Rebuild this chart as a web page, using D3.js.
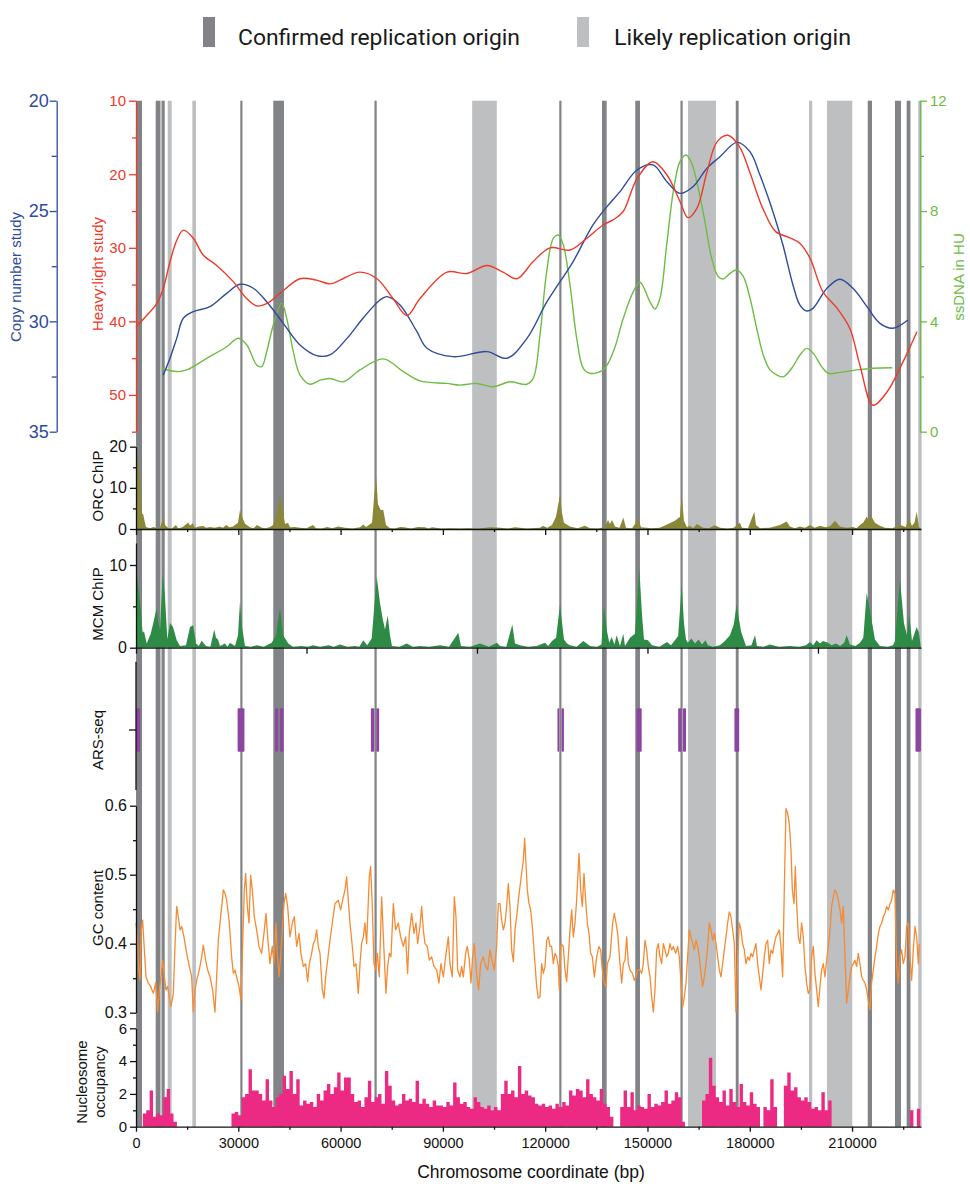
<!DOCTYPE html>
<html><head><meta charset="utf-8">
<script src="https://cdn.jsdelivr.net/npm/d3@7"></script>
<style>
body{margin:0;background:#fff;}
svg{display:block;font-family:"Liberation Sans",Arial,sans-serif;}
</style></head><body>
<svg id="c" width="970" height="1189"></svg>
<script>
// ---------- DATA (positions in kb) ----------
const legendLabels = ["Confirmed replication origin", "Likely replication origin"];
const originsConfirmed = [[0,1.76],[5.78,7.18],[7.48,8.42],[30.59,31.23],[40.26,43.40],[69.94,70.59],[124.13,124.78],[136.66,138.03],[146.42,147.80],[159.68,160.32],[175.89,176.74],[214.60,215.84],[222.58,224.34],[226.01,227.13]];
const originsLikely = [[9.30,10.47],[16.51,17.60],[98.59,105.81],[161.88,170.09],[197.36,198.33],[202.64,210.06],[229.41,230.41]];

const heavyLight = [[0,40.75],[3.14,39.2],[6.07,37.6],[8.01,35.5],[9.97,31.9],[11.94,29.0],[13.87,27.6],[16.80,28.7],[19.74,31.0],[23.67,32.4],[28.53,34.6],[32.46,36.9],[35.40,37.9],[38.33,37.6],[43.20,35.8],[48.09,34.2],[52.99,34.4],[56.89,34.9],[59.83,34.4],[65.69,33.3],[70.68,34.2],[75.37,36.9],[79.47,39.2],[83.29,36.9],[91.20,33.3],[97.07,33.5],[102.93,32.4],[107.62,33.3],[111.73,34.2],[116.42,31.9],[121.41,30.0],[127.27,30.3],[132.26,28.7],[136.95,26.9],[139.89,26.2],[142.82,25.1],[146.93,20.6],[151.62,18.3],[155.72,20.1],[159.53,23.7],[161.88,25.9],[164.52,24.6],[167.45,19.7],[170.39,15.6],[173.59,14.7],[177.05,16.3],[179.98,19.7],[183.78,24.6],[187.60,27.8],[191.57,28.6],[194.74,29.4],[197.66,31.4],[201.47,36.0],[205.58,38.2],[209.39,41.0],[212.32,46.0],[216.14,51.4],[220.24,49.6],[224.93,45.5],[229.03,41.4]];

const copyNumber = [[8.0,32.43],[9.97,31.67],[11.94,30.77],[13.87,29.86],[16.80,29.56],[21.70,29.33],[26.60,28.73],[30.50,28.32],[34.40,28.5],[38.33,29.11],[43.20,30.09],[48.09,31.07],[52.99,31.55],[56.89,31.52],[61.88,30.77],[66.57,29.86],[71.55,29.03],[73.61,28.88],[77.42,29.26],[82.40,30.47],[85.34,31.22],[92.96,31.6],[102.93,31.37],[108.80,31.67],[114.66,30.77],[120.53,29.11],[128.15,27.3],[134.02,25.63],[138.12,24.8],[141.94,24.12],[146.93,23.14],[151.62,22.91],[155.72,23.67],[159.53,24.2],[163.34,23.9],[167.45,23.06],[171.25,22.54],[176.23,21.89],[180.04,22.31],[182.99,23.37],[186.80,25.03],[189.73,26.54],[192.67,28.35],[194.72,29.26],[196.77,29.53],[198.53,29.41],[202.64,28.5],[206.45,28.09],[210.26,28.5],[214.37,29.33],[218.18,30.09],[221.99,30.31],[226.39,29.94]];

const ssDNA = [[7.54,2.3],[11.94,2.18],[14.87,2.24],[20.73,2.66],[26.60,3.08],[30.0,3.39],[32.46,3.15],[35.40,2.42],[36.86,2.36],[38.33,2.9],[40.27,3.87],[42.73,4.66],[44.19,4.11],[46.13,2.9],[48.09,2.06],[51.03,1.72],[53.96,1.87],[56.89,1.93],[60.79,1.81],[65.69,2.24],[72.52,2.64],[78.39,2.18],[83.29,1.84],[91.12,1.75],[95.02,1.69],[99.91,1.75],[104.78,1.63],[109.68,1.81],[114.58,1.72],[116.51,1.94],[118.48,3.51],[120.44,5.8],[122.38,7.01],[123.84,7.13],[125.31,6.77],[127.28,5.32],[129.24,3.39],[131.18,2.3],[133.14,2.12],[137.04,2.24],[139.98,2.9],[142.91,4.11],[145.84,5.08],[147.80,5.42],[150.73,4.71],[152.20,4.45],[153.67,4.84],[155.63,6.77],[157.57,8.7],[159.53,9.79],[161.29,10.03],[162.96,9.73],[164.90,8.82],[166.86,7.61],[168.83,6.29],[170.77,5.62],[172.24,5.54],[174.20,5.74],[176.16,5.86],[178.12,5.62],[180.08,4.84],[182.03,3.75],[183.96,2.78],[185.93,2.24],[187.89,2.06],[189.83,1.99],[192.30,2.3],[194.72,2.78],[196.69,3.02],[198.63,2.84],[201.08,2.36],[203.02,2.12],[206.45,2.15],[211.35,2.24],[216.22,2.3],[221.80,2.32]];

const orcChip = [[0,0],[0.38,18],[0.88,15],[1.17,12],[1.67,3.8],[2.14,3.5],[2.49,2],[2.93,0.5],[4.11,0.2],[5.2,0.5],[6.1,0.2],[7.04,0.3],[8.01,2.8],[8.50,1],[9.38,0.3],[10.5,0.1],[11.73,1],[12.32,0.2],[13.6,0.4],[15.34,1.6],[15.84,0.8],[16.63,1.4],[17.30,0.3],[18.4,0.6],[19.65,0.7],[20.6,0.3],[21.70,0.5],[23.1,0.3],[24.63,0.6],[25.5,0.3],[26.39,1],[27.4,0.4],[28.45,0.6],[29.91,1.5],[30.50,4.6],[31.09,3],[31.97,1.3],[33.43,0.4],[34.5,0.2],[35.48,1],[36.95,0.3],[38.1,0.2],[39.30,0.5],[40.18,1],[41.06,3],[42.23,7.9],[42.82,6],[43.70,1.2],[44.58,1.5],[45.16,0.4],[46.6,0.5],[48.09,0.3],[50.0,0.2],[51.91,1],[52.79,0.2],[54.5,0.1],[56.01,0.5],[57.6,0.2],[59.24,0.6],[61.29,0.3],[63.5,0.1],[65.69,0.4],[66.66,1.1],[67.45,0.5],[69.21,1.5],[70.38,13.2],[70.97,6],[71.76,4.6],[72.52,4.6],[73.32,1],[74.49,0.2],[76.0,0.1],[77.42,0.5],[78.59,0.4],[80.6,0.1],[82.70,0.5],[84.75,0.4],[85.8,0.1],[86.80,0.4],[89.5,0.1],[92.08,0.2],[95.0,0.1],[97.36,0.2],[100.5,0.1],[103.81,0.4],[106.75,0.3],[109.0,0.1],[111.14,0.4],[114.6,0.1],[118.48,0.3],[119.36,0.8],[120.6,0.3],[122.00,1],[123.17,3],[124.34,8.3],[124.92,4],[125.51,1.5],[127.27,0.6],[129.5,0.2],[131.67,0.8],[133.14,0.2],[135.5,0.1],[137.5,0.4],[138.42,2.2],[139.0,1.2],[139.59,2.2],[140.47,0.6],[141.8,0.3],[142.91,2.8],[143.70,0.3],[145.5,0.2],[147.31,2.4],[148.10,0.4],[149.7,0.3],[151.32,0.2],[153.6,0.3],[156.01,1.2],[158.06,2],[159.53,3],[160.03,8.3],[160.70,2],[161.6,0.4],[162.46,0.8],[163.4,0.2],[164.52,1.2],[166.28,0.3],[168.0,0.2],[169.79,0.9],[171.25,0.3],[173.5,0.1],[175.3,0.3],[177.11,1.5],[177.70,0.3],[179.5,0.2],[181.32,4.2],[181.82,1],[183.00,0.2],[185.9,0.3],[188.86,1],[190.83,1.8],[191.79,0.6],[193.2,0.2],[194.72,0.6],[196.2,0.3],[197.66,1],[199.0,0.3],[200.59,0.8],[202.2,0.4],[203.6,0.7],[204.99,2],[206.45,0.6],[208.3,0.3],[210.26,0.5],[211.3,0.2],[212.32,1],[213.3,1.6],[214.28,3],[215.0,2.2],[215.45,3.4],[216.72,1.5],[218.18,0.8],[219.65,0.3],[221.8,0.2],[224.05,1],[225.81,0.5],[226.49,2.6],[227.57,0.8],[228.3,1.5],[228.95,4.2],[229.62,0.5],[230.2,0]];

const mcmChip = [[0,0],[0.38,8.6],[1.17,5.4],[1.96,1.8],[2.35,2],[3.14,0.5],[4.31,1.7],[5.07,3],[6.07,4.8],[6.60,3],[7.04,2.1],[7.83,9.0],[8.50,6.2],[9.18,1],[9.97,3],[10.85,2.5],[11.94,0.9],[12.90,0.2],[14.66,0.3],[15.84,2.5],[16.80,2.7],[17.60,0.5],[18.4,0.2],[19.27,0.85],[20.53,0.2],[21.8,0.1],[22.96,2.2],[23.46,1.2],[24.05,1],[24.63,0.2],[26.10,0.5],[26.8,0.1],[27.57,0.6],[29.03,0.2],[29.91,1.5],[30.50,5.6],[31.09,2.5],[31.97,0.2],[33.7,0.1],[35.48,0.3],[37.5,0.1],[39.80,0.6],[41.06,1.5],[42.23,4.8],[43.11,1.5],[44.66,0.5],[46.04,0.1],[48.5,0.2],[50.4,0.1],[51.91,0.3],[54.0,0.1],[56.5,0.3],[58.0,0.1],[59.83,0.4],[62.0,0.1],[64.22,0.2],[65.5,0.1],[66.66,0.9],[67.8,0.3],[69.12,1.1],[70.59,8.6],[71.56,5.4],[72.35,3.5],[73.02,2.2],[73.81,3.9],[74.49,1.5],[75.07,0.2],[77.3,0.1],[79.39,0.5],[81.2,0.1],[83.29,0.2],[86.0,0.1],[89.15,0.3],[91.8,0.1],[94.52,1.8],[95.31,0.2],[98.0,0.1],[100.88,0.5],[103.5,0.1],[105.87,0.6],[106.75,0.2],[108.6,0.1],[110.36,2.8],[111.15,0.5],[112.61,0.3],[115.0,0.1],[117.5,0.2],[119.94,0.6],[120.9,0.2],[121.99,0.8],[123.2,1.2],[124.34,5.2],[125.52,1.0],[126.4,0.5],[127.27,0.3],[129.2,0.1],[131.18,0.8],[133.14,0.2],[135.2,0.1],[136.5,0.4],[137.25,5.0],[138.13,2],[138.8,0.6],[139.51,1.3],[140.3,0.4],[140.97,1.5],[141.94,0.2],[142.91,1.7],[143.40,0.2],[144.87,1.2],[146.34,1.7],[147.60,9.6],[148.39,4],[148.98,1],[150.15,0.9],[151.32,0.3],[153.5,0.1],[155.72,0.7],[156.9,0.3],[158.06,0.9],[159.0,1.4],[160.03,7.6],[160.70,3],[161.3,1.0],[161.88,0.6],[162.9,1.1],[163.93,0.5],[165.0,1.0],[165.99,0.4],[167.0,0.9],[167.74,0.3],[169.21,0.1],[171.25,0.3],[172.7,0.8],[174.19,1.5],[175.3,2.8],[176.16,5.2],[177.42,2],[178.89,0.2],[180.5,0.3],[181.53,1.5],[182.12,0.2],[184.0,0.1],[185.93,0.4],[188.5,0.1],[191.79,0.2],[194.5,0.1],[196.5,0.3],[197.66,0.7],[198.6,0.3],[199.6,0.9],[200.59,0.5],[201.5,0.8],[202.94,0.6],[204.0,0.3],[205.28,0.5],[206.5,0.2],[207.7,0.6],[208.42,1.5],[209.39,0.4],[211.0,0.2],[212.32,0.6],[213.3,1.2],[214.28,6.6],[215.45,4.0],[216.72,1],[218.18,0.2],[220.5,0.1],[222.0,0.3],[222.58,0.8],[224.05,8.2],[225.22,3.0],[226.10,1.5],[226.78,4.0],[227.57,0.8],[228.95,2.5],[229.62,1.8],[230.2,0]];

const arsSeq = [[0,1.2],[29.8,31.8],[40.8,41.7],[42.2,43.2],[68.9,69.9],[70.5,71.3],[123.6,124.1],[124.8,125.5],[146.8,148.3],[159.0,160.0],[160.4,161.3],[175.5,176.9],[228.6,230.2]];

const gcContent = [[0.0,0.430],[0.39,0.410],[0.78,0.362],[1.17,0.347],[1.56,0.420],[1.95,0.434],[2.34,0.400],[2.93,0.352],[3.61,0.343],[4.30,0.338],[5.08,0.328],[5.76,0.343],[6.35,0.301],[6.84,0.333],[7.33,0.352],[7.82,0.376],[8.31,0.352],[8.79,0.333],[9.28,0.338],[9.77,0.321],[10.26,0.309],[10.95,0.328],[11.43,0.396],[11.92,0.454],[12.41,0.439],[12.90,0.420],[13.39,0.425],[14.07,0.410],[14.86,0.386],[15.64,0.367],[16.32,0.352],[16.81,0.301],[17.30,0.333],[17.79,0.347],[18.57,0.362],[19.25,0.381],[19.74,0.398],[20.43,0.376],[21.01,0.362],[21.70,0.352],[22.48,0.333],[23.16,0.301],[23.65,0.352],[24.14,0.405],[24.83,0.439],[25.61,0.478],[26.10,0.473],[26.59,0.463],[27.37,0.430],[28.05,0.381],[28.54,0.357],[29.03,0.362],[29.52,0.352],[30.20,0.338],[30.79,0.318],[31.28,0.400],[31.77,0.478],[32.16,0.502],[32.65,0.454],[33.13,0.430],[33.62,0.499],[34.11,0.478],[34.70,0.439],[35.38,0.420],[36.07,0.396],[36.85,0.386],[37.53,0.415],[38.12,0.444],[38.61,0.410],[39.29,0.371],[39.98,0.396],[40.47,0.371],[41.05,0.430],[41.44,0.386],[41.93,0.352],[42.42,0.381],[42.91,0.420],[43.40,0.458],[43.89,0.473],[44.47,0.454],[45.16,0.410],[45.84,0.430],[46.43,0.439],[47.11,0.396],[47.80,0.415],[48.38,0.386],[49.07,0.367],[49.75,0.371],[50.34,0.345],[50.83,0.371],[51.51,0.386],[52.00,0.400],[52.49,0.405],[52.98,0.420],[53.47,0.396],[53.96,0.386],[54.64,0.333],[55.13,0.321],[55.62,0.352],[56.20,0.376],[56.89,0.405],[57.57,0.430],[58.35,0.458],[59.33,0.463],[60.02,0.449],[60.60,0.463],[61.29,0.478],[61.78,0.497],[62.26,0.463],[62.75,0.430],[63.44,0.396],[63.93,0.367],[64.51,0.371],[65.20,0.328],[65.69,0.371],[66.17,0.400],[66.66,0.410],[67.15,0.430],[67.64,0.400],[68.42,0.497],[68.81,0.512],[69.30,0.454],[69.79,0.371],[70.28,0.362],[70.77,0.386],[71.35,0.352],[72.04,0.468],[72.72,0.391],[73.31,0.328],[73.80,0.367],[74.29,0.386],[74.77,0.381],[75.46,0.458],[76.14,0.420],[76.93,0.430],[77.61,0.410],[78.39,0.396],[79.08,0.410],[79.66,0.357],[80.15,0.415],[80.84,0.444],[81.52,0.415],[82.11,0.430],[82.60,0.400],[83.28,0.425],[83.77,0.454],[84.26,0.420],[84.75,0.400],[85.43,0.396],[86.02,0.376],[86.70,0.381],[87.39,0.367],[88.17,0.362],[88.85,0.343],[89.44,0.371],[90.12,0.352],[90.81,0.381],[91.59,0.410],[92.08,0.371],[92.76,0.352],[93.35,0.468],[93.84,0.439],[94.33,0.362],[95.01,0.352],[95.50,0.367],[95.99,0.352],[96.67,0.386],[97.16,0.396],[97.75,0.376],[98.24,0.343],[98.72,0.381],[99.21,0.400],[99.90,0.357],[100.48,0.333],[101.07,0.371],[101.85,0.381],[102.54,0.367],[103.12,0.362],[103.81,0.391],[104.39,0.376],[105.08,0.362],[105.76,0.396],[106.25,0.458],[106.75,0.458],[107.24,0.434],[107.73,0.420],[108.22,0.430],[108.71,0.454],[109.19,0.487],[109.68,0.454],[110.17,0.391],[110.66,0.374],[111.15,0.420],[111.64,0.439],[112.13,0.463],[112.62,0.483],[113.10,0.502],[113.59,0.521],[113.98,0.553],[114.37,0.516],[114.77,0.478],[115.25,0.458],[115.74,0.449],[116.13,0.430],[116.53,0.405],[117.01,0.371],[117.50,0.338],[117.99,0.321],[118.48,0.323],[118.97,0.371],[119.46,0.357],[119.95,0.367],[120.44,0.405],[120.92,0.410],[121.41,0.396],[121.90,0.396],[122.39,0.371],[122.88,0.386],[123.37,0.381],[123.86,0.367],[124.15,0.333],[124.64,0.400],[125.32,0.396],[125.81,0.362],[126.30,0.345],[126.79,0.381],[127.28,0.420],[127.77,0.449],[128.26,0.410],[128.74,0.430],[129.23,0.463],[129.92,0.531],[130.41,0.478],[130.89,0.454],[131.38,0.502],[131.87,0.463],[132.36,0.430],[132.85,0.415],[133.34,0.386],[133.83,0.381],[134.41,0.352],[135.10,0.381],[135.78,0.396],[136.27,0.391],[136.76,0.362],[137.25,0.343],[137.83,0.338],[138.23,0.371],[139.01,0.381],[139.79,0.430],[140.28,0.444],[140.77,0.430],[141.26,0.415],[141.94,0.371],[142.43,0.343],[142.92,0.371],[143.41,0.376],[143.90,0.410],[144.38,0.371],[144.87,0.362],[145.56,0.357],[146.14,0.347],[146.63,0.352],[147.12,0.362],[147.81,0.362],[148.29,0.357],[148.78,0.371],[149.27,0.405],[149.76,0.391],[150.25,0.367],[150.74,0.352],[151.23,0.323],[151.72,0.301],[152.20,0.333],[152.69,0.391],[153.18,0.400],[153.67,0.381],[154.16,0.371],[154.65,0.400],[155.14,0.391],[155.63,0.381],[156.11,0.386],[156.60,0.400],[157.09,0.391],[157.58,0.396],[158.27,0.386],[158.85,0.396],[159.34,0.381],[159.83,0.343],[160.32,0.309],[160.81,0.323],[161.30,0.343],[161.78,0.381],[162.27,0.420],[162.76,0.410],[163.25,0.400],[163.74,0.391],[164.23,0.405],[164.72,0.396],[165.20,0.381],[165.69,0.357],[166.18,0.338],[166.67,0.352],[167.16,0.371],[167.65,0.396],[168.14,0.430],[168.63,0.420],[169.11,0.405],[169.60,0.415],[170.09,0.400],[170.58,0.381],[171.07,0.362],[171.56,0.352],[172.05,0.371],[172.54,0.391],[173.02,0.410],[173.51,0.430],[174.00,0.446],[174.49,0.439],[174.98,0.420],[175.47,0.400],[175.96,0.301],[176.45,0.381],[176.93,0.430],[177.42,0.420],[177.91,0.400],[178.40,0.391],[178.89,0.371],[179.38,0.381],[179.87,0.376],[180.36,0.386],[180.84,0.381],[181.33,0.391],[181.82,0.400],[182.31,0.371],[182.80,0.352],[183.29,0.333],[183.78,0.357],[184.27,0.381],[184.75,0.400],[185.24,0.405],[185.73,0.371],[186.22,0.391],[186.71,0.386],[187.20,0.400],[187.69,0.410],[188.18,0.415],[188.66,0.420],[189.15,0.396],[189.64,0.352],[190.13,0.478],[190.62,0.596],[191.11,0.589],[191.60,0.574],[192.09,0.536],[192.48,0.478],[192.97,0.458],[193.36,0.512],[193.75,0.458],[194.24,0.410],[194.73,0.400],[195.21,0.430],[195.70,0.410],[196.19,0.367],[196.68,0.343],[197.17,0.328],[197.66,0.333],[198.15,0.381],[198.64,0.396],[199.12,0.357],[199.61,0.333],[200.10,0.309],[200.59,0.338],[201.08,0.362],[201.57,0.371],[202.06,0.352],[202.55,0.376],[203.03,0.396],[203.52,0.420],[204.01,0.454],[204.50,0.468],[204.99,0.478],[205.48,0.473],[205.97,0.463],[206.46,0.449],[206.94,0.430],[207.43,0.454],[207.92,0.381],[208.41,0.314],[208.90,0.333],[209.39,0.352],[209.88,0.367],[210.37,0.371],[210.85,0.376],[211.34,0.367],[211.83,0.386],[212.32,0.371],[212.81,0.352],[213.30,0.347],[213.79,0.343],[214.28,0.333],[214.76,0.318],[215.25,0.304],[215.74,0.343],[216.23,0.362],[216.72,0.381],[217.21,0.396],[217.70,0.415],[218.19,0.425],[218.67,0.430],[219.16,0.439],[219.65,0.444],[220.14,0.454],[220.63,0.449],[221.12,0.458],[221.61,0.463],[222.10,0.478],[222.58,0.473],[223.07,0.371],[223.56,0.343],[224.05,0.381],[224.54,0.391],[225.03,0.371],[225.52,0.381],[226.01,0.425],[226.49,0.430],[226.98,0.381],[227.47,0.347],[227.96,0.391],[228.45,0.425],[228.94,0.410],[229.43,0.371],[229.72,0.400]];

// nucleosome occupancy, one value per 1 kb bin starting at 0 kb
const nucleosome = [0,0,0.8,1.0,2.2,0.6,0.8,0.7,1.8,2.3,0.8,0.3,
0,0,0,0,0,0,0,0,0,0,0,0,0,0,0,0,
0.8,0.9,0.7,1.8,2.0,3.5,2.2,2.2,2.0,1.6,2.9,1.6,1.2,1.8,2.0,3.1,2.3,3.4,2.0,2.9,1.3,1.6,1.4,1.5,1.2,2.0,1.6,2.2,2.6,2.0,2.4,3.3,2.2,3.0,3.0,2.0,1.5,1.6,1.2,1.8,2.8,1.5,1.8,2.0,1.4,3.4,2.5,1.6,1.3,1.4,2.0,1.6,1.7,1.5,2.8,1.4,1.7,1.4,1.2,1.6,1.3,1.3,1.2,1.5,1.3,2.7,1.8,1.4,1.5,1.2,1.1,1.8,1.5,1.2,1.1,1.3,1.0,1.2,1.0,
2.0,2.8,2.0,2.2,1.8,3.7,2.0,2.2,1.9,1.8,1.4,1.3,1.4,1.2,1.3,1.1,1.4,1.2,1.5,1.3,2.2,1.9,2.3,2.2,1.8,2.9,2.0,1.8,1.6,2.3,1.4,1.2,0.6,0,0,1.2,2.2,1.2,2.1,1.0,1.3,1.2,1.1,2.0,1.2,1.4,1.3,1.5,2.2,1.4,1.6,2.1,1.8,0.3,0,0,0,0,0,1.6,2.0,4.2,2.5,1.8,1.5,2.2,1.3,2.3,1.5,1.2,2.6,1.5,1.3,2.1,1.4,1.2,0,1.2,1.0,2.9,1.2,0,0,2.5,3.3,2.2,2.4,1.8,1.6,1.8,1.5,1.1,1.2,1.0,2.1,1.0,1.6,
0,0,0,0,0,0,0,0,0,0,0,0,0,0,0,0,0,0,0,0,0,0,0,1.0,0,1.1,0];

const xMajorTicks = [0,30,60,90,120,150,180,210];
const xMinorTicks = [15,45,75,105,135,165,195,225];
const mcmXTicks = [0,50,100,150,200];

// ---------- STYLE ----------
const C = {
  red:"#ee3a2b", blue:"#2f4b9d", green:"#6dbd45", dark:"#818386", light:"#bdbfc1",
  orc:"#8a8838", mcm:"#2e8b46", ars:"#8c45a0", gc:"#f58b33", nuc:"#ec2a84", black:"#111"
};
const FONT = '"Liberation Sans", Arial, sans-serif';
const svg = d3.select("#c");

const x = d3.scaleLinear().domain([0, 230.218]).range([136, 921]);
const TOP = 100.7, BOTTOM = 1126.7;

const yRed = d3.scaleLinear().domain([10,55]).range([100.7,431.7]);
const yBlue = d3.scaleLinear().domain([20,35]).range([100.7,431.7]);
const yGreen = d3.scaleLinear().domain([0,12]).range([431.7,100.7]);
const yOrc = d3.scaleLinear().domain([0,20]).range([529,446.7]);
const yMcm = d3.scaleLinear().domain([0,12.66]).range([647.7,543]);
const yGc = d3.scaleLinear().domain([0.3,0.6]).range([1012.7,805.7]);
const yNuc = d3.scaleLinear().domain([0,6]).range([1126.7,1028.3]);

// ---------- origin bands ----------
const bands = svg.append("g");
bands.selectAll("rect.l").data(originsLikely).join("rect")
  .attr("x", d=>x(d[0])).attr("width", d=>x(d[1])-x(d[0]))
  .attr("y", TOP).attr("height", BOTTOM-TOP).attr("fill", C.light);
bands.selectAll("rect.d").data(originsConfirmed).join("rect")
  .attr("x", d=>x(d[0])).attr("width", d=>x(d[1])-x(d[0]))
  .attr("y", TOP).attr("height", BOTTOM-TOP).attr("fill", C.dark);

// ---------- legend ----------
const lg = svg.append("g");
[[203, C.dark, 238, 282],[577, C.light, 614, 237]].forEach((p,i)=>{
  lg.append("rect").attr("x",p[0]).attr("y",17).attr("width",12).attr("height",30).attr("fill",p[1]);
  lg.append("text").attr("x",p[2]).attr("y",45).attr("font-family","Roboto, sans-serif")
    .attr("font-size",22.5).attr("fill","#1a1a1a").attr("textLength",p[3]).attr("lengthAdjust","spacingAndGlyphs")
    .text(legendLabels[i]);
});

// ---------- axis helper ----------
function axis(fn, scale, tx, ty, major, minor, majSize, minSize, color, fmt, fs, pad){
  const g = svg.append("g").attr("transform",`translate(${tx},${ty})`);
  g.call(fn(scale).tickValues(major).tickSize(majSize).tickSizeOuter(0).tickPadding(pad==null?3:pad).tickFormat(fmt));
  g.attr("font-family",FONT).attr("font-size",fs);
  g.select(".domain").attr("stroke",color).attr("stroke-width",1.3);
  g.selectAll(".tick line").attr("stroke",color).attr("stroke-width",1.3);
  g.selectAll(".tick text").attr("fill",color);
  if(minor){
    const m = svg.append("g").attr("transform",`translate(${tx},${ty})`);
    m.call(fn(scale).tickValues(minor).tickSize(minSize).tickSizeOuter(0).tickFormat(""));
    m.select(".domain").remove();
    m.selectAll(".tick line").attr("stroke",color).attr("stroke-width",1.3);
  }
  return g;
}
function vlabel(txt, cx, cy, color, fs){
  svg.append("text").attr("transform",`translate(${cx},${cy}) rotate(-90)`)
    .attr("text-anchor","middle").attr("dominant-baseline","central")
    .attr("font-family",FONT).attr("font-size",fs).attr("fill",color).text(txt);
}
const f0 = d3.format("d");

// ---------- top panel ----------
axis(d3.axisLeft, yBlue, 56.7, 0, [20,25,30,35], [22.5,27.5,32.5], 7, 5, C.blue, f0, 18, 1);
axis(d3.axisLeft, yRed, 136, 0, [10,20,30,40,50], [15,25,35,45,55], 7, 4, C.red, f0, 15, 3);
axis(d3.axisRight, yGreen, 920, 0, [0,4,8,12], [2,6,10], 7, 4, C.green, f0, 15, 3);
vlabel("Copy number study", 15, 277, C.blue, 15);
vlabel("Heavy:light study", 97, 274, C.red, 15);
vlabel("ssDNA in HU", 958, 277, C.green, 15);

const curve = d3.curveCatmullRom.alpha(0.5);
svg.append("path").datum(ssDNA).attr("fill","none").attr("stroke",C.green).attr("stroke-width",1.4)
  .attr("d", d3.line().x(d=>x(d[0])).y(d=>yGreen(d[1])).curve(curve));
svg.append("path").datum(copyNumber).attr("fill","none").attr("stroke",C.blue).attr("stroke-width",1.4)
  .attr("d", d3.line().x(d=>x(d[0])).y(d=>yBlue(d[1])).curve(curve));
svg.append("path").datum(heavyLight).attr("fill","none").attr("stroke",C.red).attr("stroke-width",1.4)
  .attr("d", d3.line().x(d=>x(d[0])).y(d=>yRed(d[1])).curve(curve));

// ---------- ORC ChIP ----------
svg.append("path").datum(orcChip).attr("fill",C.orc)
  .attr("d", d3.area().x(d=>x(d[0])).y0(yOrc(0)).y1(d=>yOrc(d[1])));
axis(d3.axisLeft, yOrc, 136, 0, [0,10,20], [5,15], 6, 3, C.black, f0, 16, 3);
axis(d3.axisBottom, x, 0, 529, xMajorTicks, xMinorTicks, 6, 3, C.black, ()=> "", 14, 3);
vlabel("ORC ChIP", 97, 486, C.black, 15);

// ---------- MCM ChIP ----------
svg.append("path").datum(mcmChip).attr("fill",C.mcm)
  .attr("d", d3.area().x(d=>x(d[0])).y0(yMcm(0)).y1(d=>yMcm(d[1])));
axis(d3.axisLeft, yMcm, 136, 0, [0,10], [5], 6, 3, C.black, f0, 16, 3);
axis(d3.axisBottom, x, 0, 647.7, mcmXTicks, null, 6, 3, C.black, ()=> "", 14, 3);
vlabel("MCM ChIP", 97, 604, C.black, 15);

// ---------- ARS-seq ----------
svg.selectAll("rect.ars").data(arsSeq).join("rect")
  .attr("x", d=>x(d[0])).attr("width", d=>Math.max(1.5, x(d[1])-x(d[0])))
  .attr("y", 708.3).attr("height", 43.4).attr("fill", C.ars).attr("rx",1);
svg.append("line").attr("x1",136).attr("x2",136).attr("y1",661.7).attr("y2",790).attr("stroke",C.black).attr("stroke-width",1.3);
svg.append("line").attr("x1",129).attr("x2",136).attr("y1",730).attr("y2",730).attr("stroke",C.black).attr("stroke-width",1.3);
vlabel("ARS-seq", 97, 740, C.black, 15);

// ---------- GC content ----------
svg.append("path").datum(gcContent).attr("fill","none").attr("stroke",C.gc).attr("stroke-width",1.3)
  .attr("stroke-linejoin","round")
  .attr("d", d3.line().x(d=>x(d[0])).y(d=>yGc(d[1])));
axis(d3.axisLeft, yGc, 136, 0, [0.3,0.4,0.5,0.6], [0.35,0.45,0.55], 6, 3, C.black, d3.format(".1f"), 16, 3);
vlabel("GC content", 97, 908, C.black, 15);

// ---------- Nucleosome ----------
svg.append("path").datum(nucleosome).attr("fill",C.nuc)
  .attr("d", d3.area().x((d,i)=>x(i)).y0(yNuc(0)).y1(d=>yNuc(d)).curve(d3.curveStepAfter));
axis(d3.axisLeft, yNuc, 136, 0, [0,2,4,6], [1,3,5], 6, 3, C.black, f0, 15, 3);
axis(d3.axisBottom, x, 0, 1126.7, xMajorTicks, xMinorTicks, 5, 3, C.black, d=>String(d*1000), 14.5, 6);
vlabel("Nucleosome", 81, 1082, C.black, 15);
vlabel("occupancy", 99, 1082, C.black, 15);
svg.append("text").attr("x",531).attr("y",1178).attr("text-anchor","middle")
  .attr("font-family",FONT).attr("font-size",17.5).attr("fill",C.black).text("Chromosome coordinate (bp)");
</script>
</body></html>
